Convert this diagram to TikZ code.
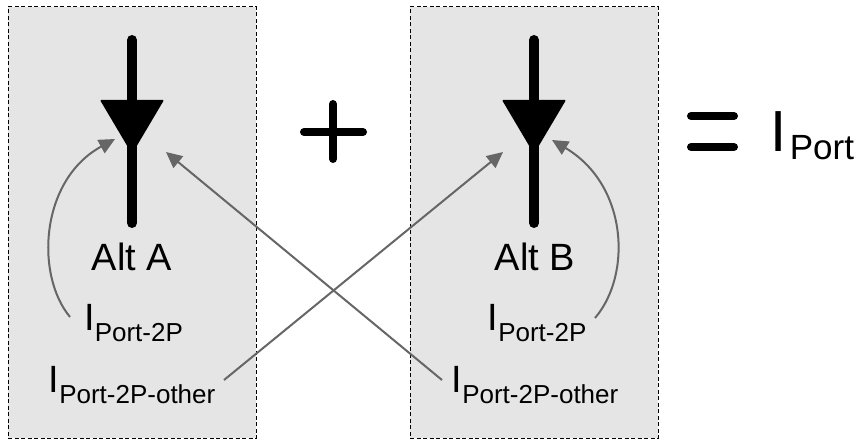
\documentclass[tikz,border=0pt]{standalone}
\usepackage{fontspec}
\setmainfont{Liberation Sans}
\usetikzlibrary{arrows.meta}
\definecolor{boxgray}{RGB}{229,229,229}
\definecolor{arrgray}{RGB}{102,102,102}
\newcommand{\bigI}[3]{{\fontsize{#1}{#1}\selectfont I}\raisebox{-#2pt}{\fontsize{#3}{#3}\selectfont}}
\begin{document}
\begin{tikzpicture}[x=1pt,y=-1pt,
  altbox/.style={draw=black,fill=boxgray,dash pattern=on 4pt off 2.5pt,line width=1pt,
    minimum width=248pt,minimum height=431pt,inner sep=0pt},
  wire/.style={line width=10pt,line cap=round},
  sym/.style={line width=8pt,line cap=round},
  lbl/.style={inner sep=0pt,anchor=base west},
  alt/.style={inner sep=0pt,anchor=base,font=\fontsize{38}{40}\selectfont},
  garrow/.style={draw=arrgray,line width=2pt,-{Triangle[length=16pt,width=15pt]}}]
\useasboundingbox (0,0) rectangle (863,441);
% boxes
\node[altbox] (boxA) at (132,222.5) {};
\node[altbox] (boxB) at (534,222.5) {};
% diode symbols
\coordinate (wAt) at (132,40); \coordinate (wAb) at (132,223);
\coordinate (wBt) at (534,40); \coordinate (wBb) at (534,223);
\draw[wire] (wAt) -- (wAb);
\draw[wire] (wBt) -- (wBb);
\fill[black,rounded corners=1pt] (100,100) -- (164,100) -- (132,154) -- cycle;
\fill[black,rounded corners=1pt] (502,100) -- (566,100) -- (534,154) -- cycle;
% plus and equals
\coordinate (pv1) at (333,104); \coordinate (pv2) at (333,159);
\coordinate (ph1) at (304,132); \coordinate (ph2) at (363,132);
\draw[sym] (pv1) -- (pv2);
\draw[sym] (ph1) -- (ph2);
\coordinate (e11) at (691,116); \coordinate (e12) at (734,116);
\coordinate (e21) at (691,147); \coordinate (e22) at (734,147);
\draw[sym] (e11) -- (e12);
\draw[sym] (e21) -- (e22);
% labels
\node[alt] (altA) at (132,270) {Alt A};
\node[alt] (altB) at (535,270) {Alt B};
\node[lbl] (pA) at (84,330) {{\fontsize{38}{40}\selectfont I}\raisebox{-11pt}{\fontsize{26}{28}\selectfont Port-2P}};
\node[lbl] (poA) at (48.5,392) {{\fontsize{38}{40}\selectfont I}\raisebox{-11pt}{\fontsize{26}{28}\selectfont Port-2P-other}};
\node[lbl] (pB) at (487.5,330) {{\fontsize{38}{40}\selectfont I}\raisebox{-11pt}{\fontsize{26}{28}\selectfont Port-2P}};
\node[lbl] (poB) at (451.5,392) {{\fontsize{38}{40}\selectfont I}\raisebox{-11pt}{\fontsize{26}{28}\selectfont Port-2P-other}};
\node[lbl] (port) at (770.5,152) {{\fontsize{58}{60}\selectfont I}\kern3pt\raisebox{-8pt}{\fontsize{35}{36}\selectfont Port}};
% arrow end points
\coordinate (sA) at (70,317);  \coordinate (tA) at (115,139);
\coordinate (sB) at (595,318); \coordinate (tB) at (552,140);
\coordinate (soA) at (224,380); \coordinate (toB) at (503,152);
\coordinate (soB) at (442,380); \coordinate (toA) at (166,152);
\draw[garrow] (sA) .. controls (35,275) and (40,180) .. (tA);
\draw[garrow] (sB) .. controls (632,275) and (628,185) .. (tB);
\draw[garrow] (soA) -- (toB);
\draw[garrow] (soB) -- (toA);
\end{tikzpicture}
\end{document}
